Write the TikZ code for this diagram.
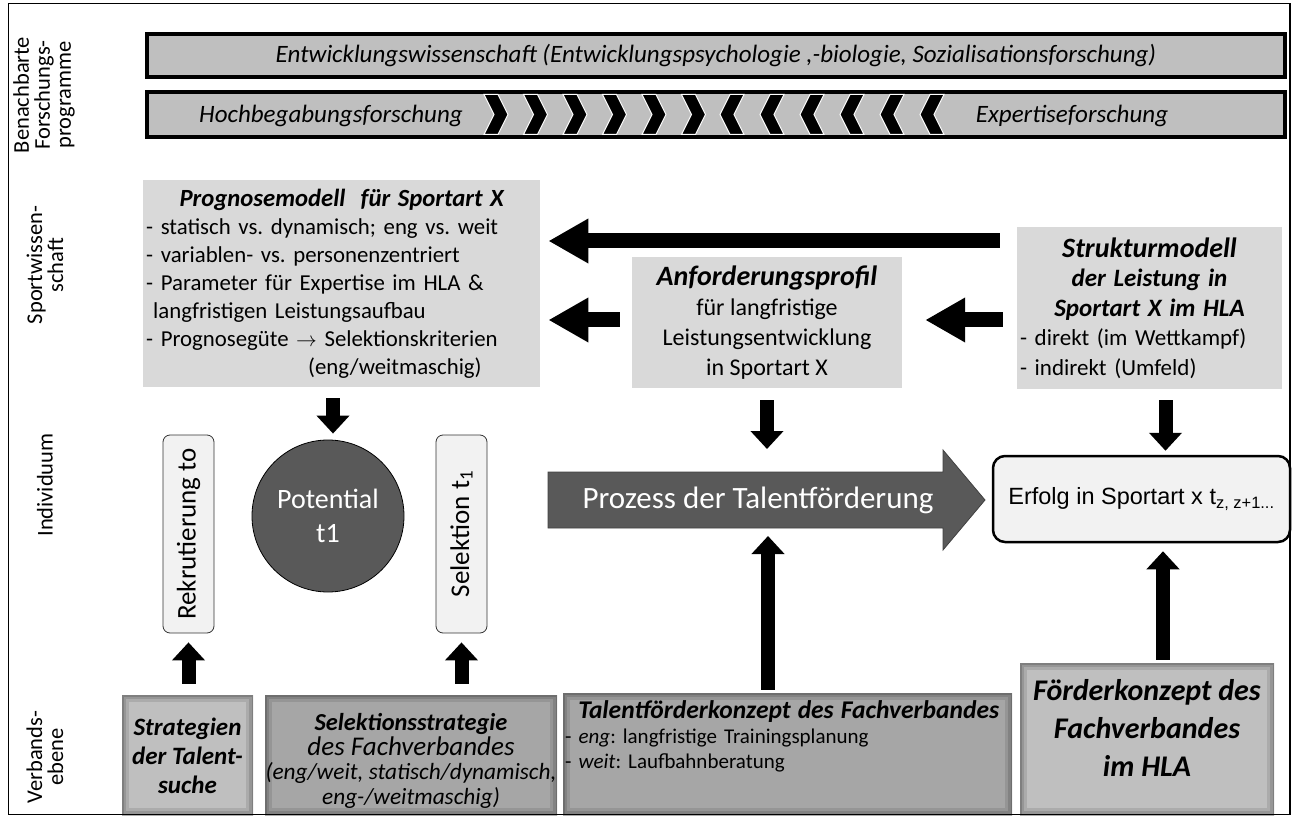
\documentclass[tikz,border=0pt]{standalone}
\usepackage{fontspec}
\usepackage{graphicx}
\setmainfont{Carlito}
\newfontfamily\arialf{Liberation Sans}
\usetikzlibrary{arrows.meta,calc}
\definecolor{barg}{HTML}{BFBFBF}
\definecolor{boxg}{HTML}{D9D9D9}
\definecolor{darkg}{HTML}{595959}
\definecolor{paleg}{HTML}{F2F2F2}
\definecolor{midg}{HTML}{A6A6A6}
\newcommand{\tightlines}{\setlength{\lineskiplimit}{-30pt}}
\frenchspacing
\begin{document}
\frenchspacing
\begin{tikzpicture}[x=1pt,y=-1pt,
  lbl/.style={rotate=90, align=center, inner sep=0pt, font={\fontsize{22.5}{21}\selectfont\tightlines}},
  bar/.style={draw=black, line width=3.5pt, fill=barg, inner sep=0pt, font=\fontsize{25}{28}\selectfont\itshape},
  bartext/.style={inner sep=0pt, font=\fontsize{25}{28}\selectfont\itshape},
  info/.style={fill=boxg, inner sep=0pt},
  blk/.style={draw=black, line width=15pt, -{Triangle[length=40pt,width=42pt]}},
  vert/.style={draw=black, line width=14pt, -{Triangle[length=18pt,width=32pt]}},
  pill/.style={draw=black!80, fill=paleg, rounded corners=7pt, line width=0.8pt, minimum width=51pt, minimum height=198pt, inner sep=0pt, font=\fontsize{27}{30}\selectfont},
  shadebox/.style={inner sep=0pt, path picture={
    \draw[black, opacity=.10, line width=14pt] (path picture bounding box.north west) rectangle (path picture bounding box.south east);
    \draw[black, opacity=.12, line width=8pt] (path picture bounding box.north west) rectangle (path picture bounding box.south east);
    \draw[black, opacity=.15, line width=3pt] (path picture bounding box.north west) rectangle (path picture bounding box.south east);}},
  boldit/.style={font=\fontsize{25}{29}\selectfont\bfseries\itshape, align=center, inner sep=0pt}
]
\useasboundingbox (0,0) rectangle (1296,818);

% left labels
\node[lbl] (lab1) at (44,95) {Benachbarte\\Forschungs-\\programme};
\node[lbl] (lab2) at (45,265) {Sportwissen-\\schaft};
\node[lbl] (lab3) at (45,485) {Individuum};
\node[lbl] (lab4) at (45,757) {Verbands-\\ebene};

% top bars
\node[bar, minimum width=1138pt, minimum height=43pt] (entw) at (716,55.5) {Entwicklungswissenschaft (Entwicklungspsychologie ,-biologie, Sozialisationsforschung)};
\node[bar, minimum width=1138pt, minimum height=45pt] (hoch) at (716,114.5) {};
\node[bartext] (hochtxt) at (331,116) {Hochbegabungsforschung};
\node[bartext] (exptxt) at (1072,116) {Expertiseforschung};
\foreach \k in {0,...,5} {
  \pgfmathsetmacro\xa{484+39.5*\k}
  \filldraw[fill=black, draw=white, line width=1pt] (\xa,94.5) -- (\xa+14,94.5) -- (\xa+24,114.5) -- (\xa+14,134.5) -- (\xa,134.5) -- (\xa+10,114.5) -- cycle;
  \pgfmathsetmacro\xb{744+40*\k}
  \filldraw[fill=black, draw=white, line width=1pt] (\xb,94.5) -- (\xb-14,94.5) -- (\xb-24,114.5) -- (\xb-14,134.5) -- (\xb,134.5) -- (\xb-10,114.5) -- cycle;
}

% Sportwissenschaft boxes
\node[info, anchor=north west, text width=391pt, inner xsep=3pt, minimum height=207pt, align=left, font=\fontsize{22.8}{28}\selectfont] (prog) at (143,180)
{\makebox[391pt][c]{\fontsize{24.7}{28}\selectfont\bfseries\itshape Prognosemodell\ \ für Sportart X}\\
- statisch vs. dynamisch; eng vs. weit\\
- variablen- vs. personenzentriert\\
- Parameter für Expertise im HLA \&\\
\hspace*{7pt}langfristigen Leistungsaufbau\\
- Prognosegüte $\rightarrow$ Selektionskriterien\\
\hspace*{162pt}(eng/weitmaschig)};

\node[info, minimum width=270pt, minimum height=131pt, align=center, font=\fontsize{24}{30}\selectfont] (anf) at (767,322.5)
{{\fontsize{28}{30}\selectfont\bfseries\itshape Anforderungsprofil}\\ für langfristige\\ Leistungsentwicklung\\ in Sportart X};

\node[info, minimum width=265pt, minimum height=162pt, text width=259pt, inner xsep=3pt, align=center, font=\fontsize{23}{29.5}\selectfont] (struk) at (1149.5,308)
{{\fontsize{28}{29.5}\selectfont\bfseries\itshape Strukturmodell}\\
{\fontsize{25}{29.5}\selectfont\bfseries\itshape der Leistung in}\\
{\fontsize{25}{29.5}\selectfont\bfseries\itshape Sportart X im HLA}\\
\makebox[259pt][l]{- direkt (im Wettkampf)}\\
\makebox[259pt][l]{- indirekt (Umfeld)}};

% Individuum
\node[circle, draw=black, line width=0.8pt, fill=darkg, minimum size=152pt, inner sep=0pt, text=white, align=center, font=\fontsize{28}{34}\selectfont] (pot) at (328,516) {Potential\\t1};
\node[pill] (rek) at (188.5,534) {\rotatebox{90}{Rekrutierung to}};
\node[pill] (sel) at (461.5,534) {\rotatebox{90}{Selektion t\textsubscript{1}}};

\fill[darkg, draw=black!75, line width=0.8pt] (548,472) -- (943,472) -- (943,450) -- (985,500) -- (943,550) -- (943,528) -- (548,528) -- cycle;
\node[text=white, inner sep=0pt, font=\fontsize{31}{34}\selectfont] (prozess) at (758,500) {Prozess der Talentförderung};
\coordinate (pzN) at (767,449);
\coordinate (pzS) at (768,536);

\node[draw=black, line width=2.5pt, fill=paleg, rounded corners=12pt, minimum width=297pt, minimum height=86pt, inner sep=0pt, font=\arialf\fontsize{23.5}{26}\selectfont] (erf) at (1141.5,499) {Erfolg in Sportart x t\textsubscript{z, z+1...}};

% Verbandsebene
\node[shadebox, fill=barg, minimum width=131pt, minimum height=120pt] (strat) at (187.5,755) {};
\node[boldit] (strattxt) at (187.5,756) {Strategien\\der Talent-\\suche};
\node[shadebox, fill=midg, minimum width=292pt, minimum height=120pt] (selstrat) at (411,755) {};
\node[align=center, inner sep=0pt, font={\fontsize{23.3}{24.5}\selectfont\itshape\tightlines}] (selstrattxt) at (411,761)
{{\fontsize{24.4}{24.5}\selectfont\bfseries Selektionsstrategie}\\ {\fontsize{27}{24.5}\selectfont des Fachverbandes}\\ (eng/weit, statisch/dynamisch,\\ eng-/weitmaschig)};
\node[shadebox, fill=midg, minimum width=449pt, minimum height=122pt] (talent) at (787.5,754) {};
\node[anchor=north west, inner sep=0pt, text width=447pt, align=left, font=\fontsize{21}{25}\selectfont] (talenttxt) at (565,700)
{\makebox[447pt][c]{\fontsize{25.5}{28}\selectfont\bfseries\itshape Talentförderkonzept des Fachverbandes}\\
- \textit{eng}: langfristige Trainingsplanung\\
- \textit{weit}: Laufbahnberatung};
\node[shadebox, fill=barg, minimum width=254pt, minimum height=152pt] (foerd) at (1147,739) {};
\node[align=center, inner sep=0pt, font=\fontsize{30}{38}\selectfont\bfseries\itshape] (foerdtxt) at (1147,728) {Förderkonzept des\\Fachverbandes\\im HLA};

% connectors
\draw[blk] ($(struk.west |- 0,241)+(-17,0)$) -- ($(prog.east |- 0,241)+(8,0)$);
\draw[blk] ($(anf.west)+(-12,-2.5)$) -- ($(prog.east |- anf.west)+(8,-2.5)$);
\draw[blk] ($(struk.west |- anf.west)+(-14,-2.5)$) -- ($(anf.east)+(23,-2.5)$);
\draw[vert] ($(prog.south -| pot.north)+(5,11)$) -- ($(pot.north)+(5,-6)$);
\draw[vert] ($(anf.south)+(0,12)$) -- (pzN);
\draw[vert] ($(struk.south)+(16,11)$) -- ($(erf.north -| struk.south)+(16,-4)$);
\draw[vert] ($(rek.south |- strat.north)+(0,-11)$) -- ($(rek.south)+(0,9)$);
\draw[vert] ($(sel.south |- selstrat.north)+(0,-11)$) -- ($(sel.south)+(0,9)$);
\draw[vert] ($(talent.north -| pzS)+(0,-3)$) -- (pzS);
\draw[vert] ($(foerd.north)+(16,-3)$) -- ($(erf.south -| foerd.north)+(16,8)$);

% frame
\draw[line width=1.3pt] (8.5,3.5) rectangle (1290,814.5);
\end{tikzpicture}
\end{document}
